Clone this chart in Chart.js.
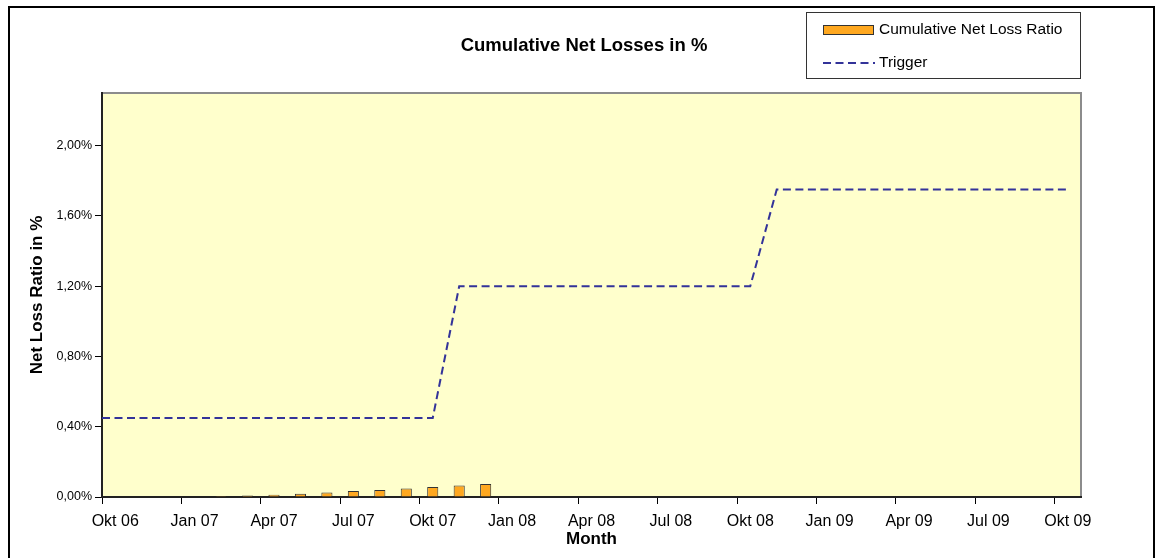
<!DOCTYPE html>
<html>
<head>
<meta charset="utf-8">
<script src="https://cdn.jsdelivr.net/npm/chart.js@4.4.1/dist/chart.umd.min.js"></script>
<style>
    html, body { margin: 0; padding: 0; background: #fff; }
</style>
</head>
<body>
<canvas id="lossChart" width="1163" height="558"></canvas>
<script>
// DATA
const months = [
    "Okt 06", "Nov 06", "Dez 06",
    "Jan 07", "Feb 07", "Mär 07", "Apr 07", "Mai 07", "Jun 07",
    "Jul 07", "Aug 07", "Sep 07", "Okt 07", "Nov 07", "Dez 07",
    "Jan 08", "Feb 08", "Mär 08", "Apr 08", "Mai 08", "Jun 08",
    "Jul 08", "Aug 08", "Sep 08", "Okt 08", "Nov 08", "Dez 08",
    "Jan 09", "Feb 09", "Mär 09", "Apr 09", "Mai 09", "Jun 09",
    "Jul 09", "Aug 09", "Sep 09", "Okt 09"
];

// cumulative net loss ratio in %, Jan 07 .. Dez 07
const lossRatio = [
    null, null, null,
    0.004, 0.006, 0.009, 0.013, 0.018, 0.025,
    0.034, 0.040, 0.048, 0.057, 0.065, 0.074
];

// trigger level in % per month
const trigger = [
    0.45, 0.45, 0.45, 0.45, 0.45, 0.45, 0.45, 0.45, 0.45, 0.45, 0.45, 0.45, 0.45,
    1.20, 1.20, 1.20, 1.20, 1.20, 1.20, 1.20, 1.20, 1.20, 1.20, 1.20, 1.20,
    1.75, 1.75, 1.75, 1.75, 1.75, 1.75, 1.75, 1.75, 1.75, 1.75, 1.75, 1.75
];

const yTicks = [0, 0.4, 0.8, 1.2, 1.6, 2.0];

const FONT = "'Liberation Sans', Arial, sans-serif";
const BAR_COLOR = "#FFA820";
const LINE_COLOR = "#333399";
const DASH = [8, 4.5];

// the trigger line in the original starts right at the value axis
const triggerPoints = [{ x: -0.5, y: trigger[0] }]
    .concat(trigger.map((v, i) => ({ x: i, y: v })));

const fmtPct = (v) => v.toFixed(2).replace(".", ",") + "%";

// BACKGROUND, FRAME, TITLE, LEGEND
const framePlugin = {
    id: "frame",
    beforeDraw(chart) {
        const ctx = chart.ctx;
        const a = chart.chartArea;
        ctx.save();
        ctx.fillStyle = "#fff";
        ctx.fillRect(0, 0, chart.width, chart.height);
        ctx.fillStyle = "#FFFFCC";
        ctx.fillRect(a.left, a.top, a.right - a.left, a.bottom - a.top);
        ctx.strokeStyle = "#8c8c8c";
        ctx.lineWidth = 2;
        ctx.strokeRect(a.left, a.top, a.right - a.left, a.bottom - a.top);
        ctx.restore();
    },
    afterDraw(chart) {
        const ctx = chart.ctx;
        const ds = chart.data.datasets;
        ctx.save();

        // outer border
        ctx.strokeStyle = "#000";
        ctx.lineWidth = 2;
        ctx.strokeRect(9, 7, 1145, 600);

        // title
        ctx.fillStyle = "#000";
        ctx.font = "bold 18.5px " + FONT;
        ctx.textAlign = "center";
        ctx.textBaseline = "middle";
        ctx.fillText("Cumulative Net Losses in %", 584, 46);

        // legend box
        ctx.fillStyle = "#fff";
        ctx.fillRect(806, 12, 275, 67);
        ctx.strokeStyle = "#333";
        ctx.lineWidth = 1;
        ctx.strokeRect(806.5, 12.5, 274, 66);

        ctx.fillStyle = ds[0].backgroundColor;
        ctx.fillRect(823, 25, 51, 10);
        ctx.strokeStyle = ds[0].borderColor;
        ctx.strokeRect(823.5, 25.5, 50, 9);

        ctx.strokeStyle = ds[1].borderColor;
        ctx.lineWidth = 2;
        ctx.setLineDash(DASH);
        ctx.beginPath();
        ctx.moveTo(823, 63);
        ctx.lineTo(875, 63);
        ctx.stroke();
        ctx.setLineDash([]);

        ctx.fillStyle = "#000";
        ctx.font = "15.5px " + FONT;
        ctx.textAlign = "left";
        ctx.fillText(ds[0].label, 879, 30);
        ctx.fillText(ds[1].label, 879, 63);
        ctx.restore();
    }
};

new Chart(document.getElementById("lossChart"), {
    type: "bar",
    data: {
        labels: months,
        datasets: [{
            type: "bar",
            label: "Cumulative Net Loss Ratio",
            data: lossRatio,
            xAxisID: "x",
            yAxisID: "y",
            backgroundColor: BAR_COLOR,
            borderColor: "#333",
            borderWidth: 1,
            categoryPercentage: 1,
            barPercentage: 0.42,
            grouped: false,
            order: 2
        }, {
            type: "line",
            label: "Trigger",
            data: triggerPoints,
            xAxisID: "x2",
            yAxisID: "y",
            borderColor: LINE_COLOR,
            borderWidth: 2,
            borderDash: DASH,
            pointRadius: 0,
            fill: false,
            tension: 0,
            grouped: false,
            order: 1
        }]
    },
    options: {
        responsive: false,
        animation: false,
        layout: { padding: { left: 0, right: 82, top: 93, bottom: 0 } },
        plugins: {
            legend: { display: false },
            title: { display: false },
            tooltip: { enabled: false }
        },
        scales: {
            x: {
                type: "category",
                offset: true,
                grid: {
                    offset: true,
                    drawOnChartArea: false,
                    tickLength: 7,
                    color: (c) => (c.index % 3 === 0 ? "#000" : "rgba(0,0,0,0)")
                },
                border: { color: "#222", width: 2 },
                ticks: {
                    autoSkip: false,
                    maxRotation: 0,
                    padding: 8,
                    color: "#000",
                    font: { family: FONT, size: 16 },
                    callback: (v, i) => (i % 3 === 0 ? months[i] : "")
                },
                title: {
                    display: true,
                    text: "Month",
                    color: "#000",
                    font: { family: FONT, size: 17, weight: "bold" },
                    padding: { top: 0, bottom: 8 }
                },
                afterFit: (s) => { s.height = 61; }
            },
            x2: {
                type: "linear",
                display: false,
                offset: false,
                grid: { offset: false },
                min: -0.5,
                max: 36.5
            },
            y: {
                min: 0,
                max: 2.3,
                afterBuildTicks: (s) => { s.ticks = yTicks.map((v) => ({ value: v })); },
                grid: { drawOnChartArea: false, tickLength: 7, color: "#000" },
                border: { color: "#222", width: 2 },
                ticks: {
                    padding: 3,
                    color: "#000",
                    font: { family: FONT, size: 12.5 },
                    callback: (v) => fmtPct(v)
                },
                title: {
                    display: true,
                    text: "Net Loss Ratio in %",
                    color: "#000",
                    font: { family: FONT, size: 17, weight: "bold" },
                    padding: { top: 27, bottom: 0 }
                },
                afterFit: (s) => { s.width = 102; }
            }
        }
    },
    plugins: [framePlugin]
});
</script>
</body>
</html>
